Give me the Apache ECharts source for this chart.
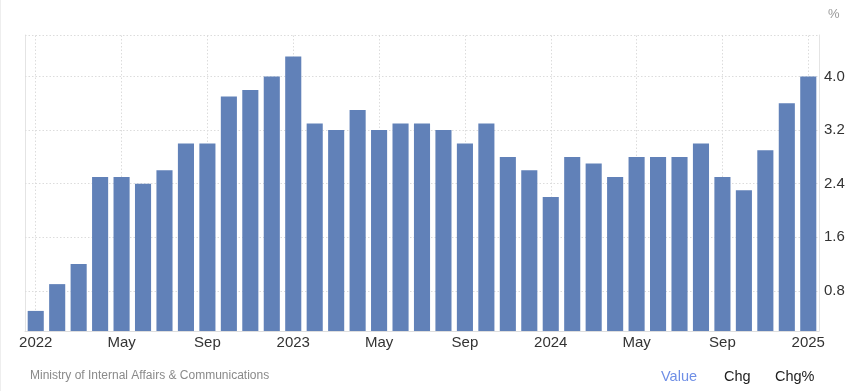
<!DOCTYPE html>
<html>
<head>
<meta charset="utf-8">
<script src="https://cdn.jsdelivr.net/npm/echarts@6/dist/echarts.min.js"></script>
<style>
html,body{margin:0;padding:0;background:#fff;}
#chart{width:851px;height:391px;}
</style>
</head>
<body>
<div id="chart"></div>
<script>
const categories = ['2022-01','2022-02','2022-03','2022-04','2022-05','2022-06','2022-07','2022-08','2022-09','2022-10','2022-11','2022-12',
  '2023-01','2023-02','2023-03','2023-04','2023-05','2023-06','2023-07','2023-08','2023-09','2023-10','2023-11','2023-12',
  '2024-01','2024-02','2024-03','2024-04','2024-05','2024-06','2024-07','2024-08','2024-09','2024-10','2024-11','2024-12',
  '2025-01'];
const values = [0.5,0.9,1.2,2.5,2.5,2.4,2.6,3.0,3.0,3.7,3.8,4.0,
  4.3,3.3,3.2,3.5,3.2,3.3,3.3,3.2,3.0,3.3,2.8,2.6,
  2.2,2.8,2.7,2.5,2.8,2.8,2.8,3.0,2.5,2.3,2.9,3.6,
  4.0];
const yTickValues = [0.8,1.6,2.4,3.2,4.0];
const monthNames = ['Jan','Feb','Mar','Apr','May','Jun','Jul','Aug','Sep','Oct','Nov','Dec'];
const yMin = 0.2, yMax = 4.62;

const gridStyle = {color:'#dcdcdc', type:[1.5,2], width:1};
const markData = [];
yTickValues.forEach(v => markData.push({yAxis:v}));
markData.push({yAxis:yMax});
categories.forEach((c,i) => { if (i % 4 === 0) markData.push({xAxis:c}); });

function fmtX(v){
  const [y,m] = v.split('-');
  return m === '01' ? y : monthNames[parseInt(m,10)-1];
}

const chart = echarts.init(document.getElementById('chart'));
chart.setOption({
  backgroundColor:'#fff',
  animation:false,
  grid:{left:25,right:32,top:35,bottom:60},
  xAxis:{
    type:'category', data:categories,
    axisLine:{show:true,lineStyle:{color:'#dedede',width:1}},
    axisTick:{show:false},
    splitLine:{show:false},
    axisLabel:{interval:3, formatter:fmtX, color:'#333', fontSize:15, fontFamily:'Liberation Sans, Arial', margin:4}
  },
  yAxis:[{
    type:'value', position:'right', min:yMin, max:yMax, interval:0.2,
    axisLine:{show:true,lineStyle:{color:'#e4e4e4'}},
    axisTick:{show:false},
    splitLine:{show:false},
    axisLabel:{
      color:'#333', fontSize:15, fontFamily:'Liberation Sans, Arial', margin:5,
      formatter:function(v){
        return yTickValues.some(t => Math.abs(t - v) < 1e-6) ? v.toFixed(1) : '';
      }
    }
  },{
    type:'value', position:'left', min:yMin, max:yMax, interval:0.2,
    axisLine:{show:true,lineStyle:{color:'#e4e4e4'}},
    axisTick:{show:false}, splitLine:{show:false}, axisLabel:{show:false}
  }],
  series:[
    {type:'line', data:[], z:1, silent:true,
     markLine:{silent:true, z:1, symbol:'none', label:{show:false}, lineStyle:gridStyle, emphasis:{disabled:true}, data:markData}},
    {type:'bar', data:values, z:3, barCategoryGap:'25%',
     itemStyle:{color:'#6181b8'}}
  ],
  graphic:[
    {type:'rect', left:0, top:0, shape:{width:1,height:391}, style:{fill:'#eeeeee'}, silent:true},
    {type:'text', left:828, top:8, style:{text:'%', fill:'#999', fontSize:13, fontFamily:'Liberation Sans, Arial'}},
    {type:'text', left:30, top:370, style:{text:'Ministry of Internal Affairs & Communications', fill:'#8a8a8a', fontSize:12, fontFamily:'Liberation Sans, Arial'}},
    {type:'text', left:661, top:369, style:{text:'Value', fill:'#6f8fe6', fontSize:14.5, fontFamily:'Liberation Sans, Arial'}},
    {type:'text', left:724, top:369, style:{text:'Chg', fill:'#222', fontSize:14.5, fontFamily:'Liberation Sans, Arial'}},
    {type:'text', left:775, top:369, style:{text:'Chg%', fill:'#222', fontSize:14.5, fontFamily:'Liberation Sans, Arial'}}
  ]
});
</script>
</body>
</html>
